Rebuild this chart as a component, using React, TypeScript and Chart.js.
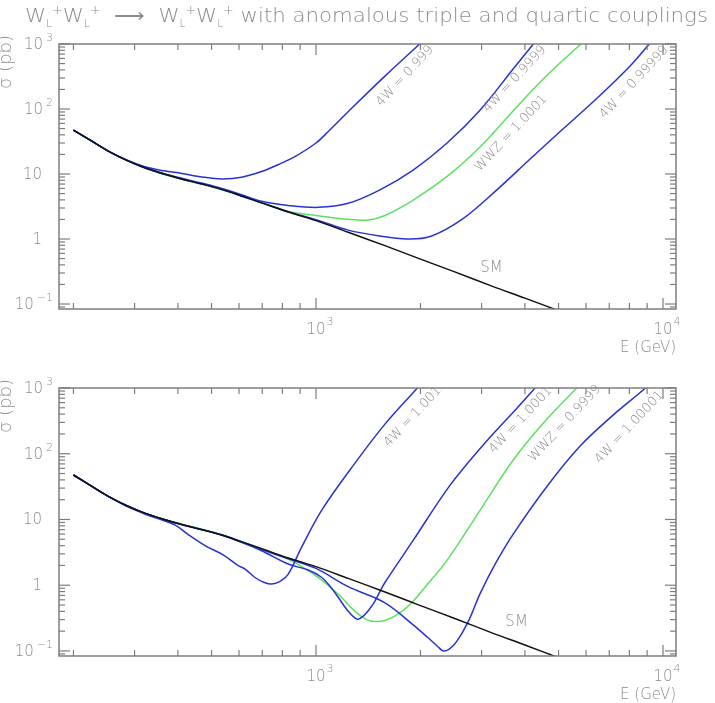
import React, { useEffect, useRef } from "react";
import { Chart, registerables } from "chart.js";

Chart.register(...registerables);

// ---------------- data ----------------
// Standard Model curve (shared by both panels)
const smE = [200, 226, 252, 285, 321, 365, 410, 470, 535, 610, 697, 832, 1000, 1238, 1580, 2000, 2500, 3200, 4000, 5000, 5500];
const smS = [47.5, 32, 22.5, 16.2, 12.5, 10.0, 8.4, 7.0, 5.8, 4.6, 3.6, 2.6, 1.92, 1.27, 0.79, 0.49, 0.315, 0.19, 0.123, 0.079, 0.065];

// Top panel
const t4w999E = [200, 226, 252, 285, 321, 365, 410, 470, 535, 610, 697, 780, 869, 1000, 1085, 1295, 1580, 1990, 2150];
const t4w999S = [47.5, 32, 22.5, 16.4, 12.9, 11.2, 10.2, 9.0, 8.4, 8.9, 10.9, 14, 18.5, 30, 45, 115, 320, 1000, 1450];

const t4w9999E = [200, 226, 252, 285, 321, 365, 410, 470, 535, 610, 697, 832, 1015, 1238, 1528, 1905, 2382, 2973, 3709, 4230, 4500];
const t4w9999S = [47.5, 32, 22.5, 16.2, 12.6, 10.1, 8.6, 7.2, 6.0, 4.8, 3.8, 3.28, 3.07, 3.54, 5.7, 11.5, 29.7, 96.6, 420, 1000, 1500];

const t4w99999E = [200, 226, 252, 285, 321, 365, 410, 470, 535, 610, 697, 832, 1000, 1238, 1528, 1824, 2133, 2660, 3320, 4140, 5165, 6440, 8040, 9130, 9600];
const t4w99999S = [47.5, 32, 22.5, 16.2, 12.5, 10.0, 8.4, 7.0, 5.8, 4.6, 3.6, 2.63, 1.98, 1.37, 1.11, 1.0, 1.09, 2.08, 5.7, 17, 50, 145, 460, 1000, 1350];

const tWwzE = [200, 226, 252, 285, 321, 365, 410, 470, 535, 610, 697, 832, 1000, 1238, 1414, 1580, 1905, 2382, 2973, 3709, 4628, 5800, 6100];
const tWwzS = [47.5, 32, 22.5, 16.1, 12.3, 9.8, 8.3, 6.9, 5.7, 4.55, 3.6, 2.65, 2.3, 2.01, 1.96, 2.3, 3.98, 9.1, 26.3, 95, 330, 1000, 1300];

// Bottom panel
const b4w1001E = [200, 226, 252, 285, 321, 350, 393, 428, 479, 540, 597, 625, 667, 710, 745, 790, 832, 909, 1039, 1295, 1580, 1960, 2100];
const b4w1001S = [47.5, 32, 22.5, 15.8, 12.1, 10.3, 8.2, 5.9, 4.0, 2.9, 1.98, 1.76, 1.31, 1.1, 1.04, 1.15, 1.48, 3.8, 13.9, 72, 282, 1000, 1500];

const b4w10001E = [200, 226, 252, 285, 321, 365, 410, 470, 535, 610, 697, 832, 950, 1039, 1100, 1160, 1230, 1310, 1360, 1420, 1479, 1528, 1580, 1905, 2432, 3033, 3787, 4276, 4500];
const b4w10001S = [47.5, 32, 22.5, 16.2, 12.5, 10.0, 8.4, 7.0, 5.8, 4.5, 3.35, 2.1, 1.7, 1.31, 0.95, 0.65, 0.42, 0.305, 0.33, 0.42, 0.574, 0.8, 1.1, 4.8, 33, 136, 489, 1000, 1400];

const b4w100001E = [200, 226, 252, 285, 321, 365, 410, 470, 535, 610, 697, 832, 1000, 1238, 1580, 1905, 2100, 2250, 2328, 2420, 2542, 2746, 2973, 3300, 3709, 4628, 5770, 7195, 8900, 9500];
const b4w100001S = [47.5, 32, 22.5, 16.2, 12.5, 10.0, 8.4, 7.0, 5.8, 4.55, 3.5, 2.52, 1.8, 0.95, 0.54, 0.25, 0.16, 0.115, 0.1, 0.107, 0.139, 0.28, 0.75, 2.2, 6.1, 31.8, 131, 390, 1000, 1450];

const bWwzE = [200, 226, 252, 285, 321, 365, 410, 470, 535, 610, 697, 832, 1000, 1160, 1295, 1400, 1479, 1580, 1745, 1905, 2100, 2382, 2973, 3709, 4628, 5640, 5900];
const bWwzS = [47.5, 32, 22.5, 16.2, 12.5, 10.0, 8.5, 7.1, 5.9, 4.6, 3.6, 2.5, 1.39, 0.73, 0.4, 0.3, 0.28, 0.29, 0.38, 0.57, 1.05, 2.37, 13.9, 81.7, 337, 1000, 1300];

// curve labels: text and anchor in data coordinates (E, sigma)
const topLabels = [
  { text: "4W = 0.999", e: 1805, s: 322 },
  { text: "4W = 0.9999", e: 3740, s: 289 },
  { text: "WWZ = 1.0001", e: 3650, s: 42.3 },
  { text: "4W = 0.99999", e: 8260, s: 257 },
];
const topSM = { text: "SM", e: 3206, s: 0.363 };
const bottomLabels = [
  { text: "4W = 1.001", e: 1900, s: 366 },
  { text: "4W = 1.0001", e: 3890, s: 326 },
  { text: "WWZ = 0.9999", e: 5210, s: 290 },
  { text: "4W = 1.00001", e: 8000, s: 252 },
];
const bottomSM = { text: "SM", e: 3785, s: 0.272 };

// axes
const X_MIN = 181.7;
const X_MAX = 10900;
const Y_MIN = 0.0838;
const Y_MAX = 1000;
const xMajorTicks = [1000, 10000];
const xMinorTicks = [200, 300, 400, 500, 600, 700, 800, 900, 2000, 3000, 4000, 5000, 6000, 7000, 8000, 9000];
const yMajorTicks = [0.1, 1, 10, 100, 1000];
const yMinorTicks = [0.09, 0.2, 0.3, 0.4, 0.5, 0.6, 0.7, 0.8, 0.9, 2, 3, 4, 5, 6, 7, 8, 9, 20, 30, 40, 50, 60, 70, 80, 90, 200, 300, 400, 500, 600, 700, 800, 900];
const yTickLabels = [
  { v: 1000, base: "10", exp: "3" },
  { v: 100, base: "10", exp: "2" },
  { v: 10, base: "10", exp: "" },
  { v: 1, base: "1", exp: "" },
  { v: 0.1, base: "10", exp: "\u22121" },
];
const xTickLabels = [
  { v: 1000, base: "10", exp: "3" },
  { v: 10000, base: "10", exp: "4" },
];

// ---------------- styles ----------------
const FONT = "'DejaVu Sans', 'Liberation Sans', sans-serif";
const TXT = "#8c8c8c";
const AXIS = "#7d7d7d";
const BLUE = "#2832d2";
const GREEN = "#5ee05e";
const BLACK = "#111111";

function ds(E: number[], S: number[], color: string) {
  return {
    data: E.map((e, i) => ({ x: e, y: S[i] })),
    borderColor: color,
    borderWidth: 1.5,
    pointRadius: 0,
    fill: false,
    tension: 0.35,
  };
}

function drawTitle(ctx: CanvasRenderingContext2D) {
  const pieces: [string, "n" | "sub" | "sup"][] = [
    ["W", "n"], ["L", "sub"], ["+", "sup"], ["W", "n"], ["L", "sub"], ["+", "sup"],
    ["  \u27F6  ", "n"],
    ["W", "n"], ["L", "sub"], ["+", "sup"], ["W", "n"], ["L", "sub"], ["+", "sup"],
    [" with anomalous triple and quartic couplings", "n"],
  ];
  const fonts = { n: `200 20px ${FONT}`, sub: `200 10px ${FONT}`, sup: `200 12px ${FONT}` };
  const dy = { n: 0, sub: 5, sup: -8 };
  const widths: number[] = [];
  let total = 0;
  for (const [t, k] of pieces) {
    ctx.font = fonts[k];
    const w = ctx.measureText(t).width;
    widths.push(w);
    total += w;
  }
  const left = 25;
  const right = 708;
  const sx = (right - left) / total;
  ctx.save();
  ctx.fillStyle = TXT;
  ctx.textAlign = "left";
  ctx.textBaseline = "alphabetic";
  ctx.translate(left, 22);
  ctx.scale(sx, 1);
  let cx = 0;
  pieces.forEach(([t, k], i) => {
    ctx.font = fonts[k];
    ctx.fillText(t, cx, dy[k]);
    cx += widths[i];
  });
  ctx.restore();
}

function makeDecor(labels: { text: string; e: number; s: number }[], sm: { text: string; e: number; s: number }, withTitle: boolean, yTitleY: number) {
  return {
    id: "decor",
    afterDatasetsDraw(chart: any) {
      const ctx: CanvasRenderingContext2D = chart.ctx;
      const a = chart.chartArea;
      const x = chart.scales.x;
      const y = chart.scales.y;
      ctx.save();
      // frame
      ctx.strokeStyle = AXIS;
      ctx.lineWidth = 1.5;
      ctx.strokeRect(a.left, a.top, a.right - a.left, a.bottom - a.top);
      const seg = (x1: number, y1: number, x2: number, y2: number) => {
        ctx.beginPath();
        ctx.moveTo(x1, y1);
        ctx.lineTo(x2, y2);
        ctx.stroke();
      };
      ctx.lineWidth = 1.2;
      const xt = (v: number, len: number) => {
        const px = x.getPixelForValue(v);
        if (px <= a.left || px >= a.right) return;
        seg(px, a.bottom, px, a.bottom - len);
        seg(px, a.top, px, a.top + len);
      };
      const yt = (v: number, len: number) => {
        const py = y.getPixelForValue(v);
        if (py < a.top - 0.5 || py > a.bottom + 0.5) return;
        seg(a.left, py, a.left + len, py);
        seg(a.right, py, a.right - len, py);
      };
      xMajorTicks.forEach((v) => xt(v, 11));
      xMinorTicks.forEach((v) => xt(v, 6));
      yMajorTicks.forEach((v) => yt(v, 11));
      yMinorTicks.forEach((v) => yt(v, 6));

      // tick labels
      ctx.fillStyle = TXT;
      const baseFont = `200 15px ${FONT}`;
      const supFont = `200 11px ${FONT}`;
      ctx.textBaseline = "middle";
      for (const t of yTickLabels) {
        const py = y.getPixelForValue(t.v);
        if (t.exp) {
          ctx.font = supFont;
          const ew = ctx.measureText(t.exp).width;
          const supRight = a.left - 6;
          ctx.textAlign = "right";
          ctx.fillText(t.exp, supRight, py - 6);
          ctx.font = baseFont;
          ctx.fillText(t.base, supRight - ew - 3, py + 1);
        } else {
          ctx.font = baseFont;
          ctx.textAlign = "right";
          ctx.fillText(t.base, a.left - 17, py + 1);
        }
      }
      for (const t of xTickLabels) {
        const px = x.getPixelForValue(t.v);
        ctx.font = baseFont;
        const bw = ctx.measureText(t.base).width;
        ctx.textAlign = "center";
        ctx.fillText(t.base, px, a.bottom + 21);
        ctx.font = supFont;
        ctx.textAlign = "left";
        ctx.fillText(t.exp, px + bw / 2 + 1, a.bottom + 13);
      }
      // x-axis title
      ctx.font = baseFont;
      ctx.textAlign = "right";
      ctx.fillText("E (GeV)", a.right, a.bottom + 39);

      // y-axis title (partly cut by the left edge, as in the original)
      ctx.save();
      ctx.translate(11, yTitleY);
      ctx.rotate(-Math.PI / 2);
      ctx.textAlign = "center";
      ctx.textBaseline = "alphabetic";
      ctx.font = `200 18px ${FONT}`;
      ctx.fillText("\u03C3 (pb)", 0, 0);
      ctx.restore();

      // curve labels
      ctx.font = `200 13px ${FONT}`;
      ctx.textAlign = "center";
      ctx.textBaseline = "middle";
      for (const l of labels) {
        const px = x.getPixelForValue(l.e);
        const py = y.getPixelForValue(l.s);
        ctx.save();
        ctx.translate(px, py);
        ctx.rotate((-47 * Math.PI) / 180);
        ctx.fillText(l.text, 0, 0);
        ctx.restore();
      }
      ctx.font = `200 15px ${FONT}`;
      ctx.fillText(sm.text, x.getPixelForValue(sm.e), y.getPixelForValue(sm.s));

      if (withTitle) drawTitle(ctx);
      ctx.restore();
    },
  };
}

function config(datasets: any[], padTop: number, padBottom: number, decor: any) {
  return {
    type: "line" as const,
    data: { datasets },
    options: {
      animation: false as const,
      responsive: false,
      events: [],
      layout: { padding: { left: 59, right: 39, top: padTop, bottom: padBottom } },
      plugins: { legend: { display: false }, title: { display: false }, tooltip: { enabled: false } },
      scales: {
        x: { type: "logarithmic" as const, min: X_MIN, max: X_MAX, display: false },
        y: { type: "logarithmic" as const, min: Y_MIN, max: Y_MAX, display: false },
      },
    },
    plugins: [decor],
  };
}

export default function App() {
  const topRef = useRef<HTMLCanvasElement>(null);
  const botRef = useRef<HTMLCanvasElement>(null);

  useEffect(() => {
    const top = new Chart(
      topRef.current!,
      config(
        [
          ds(smE, smS, BLACK),
          ds(t4w999E, t4w999S, BLUE),
          ds(t4w9999E, t4w9999S, BLUE),
          ds(t4w99999E, t4w99999S, BLUE),
          ds(tWwzE, tWwzS, GREEN),
        ],
        44,
        51,
        makeDecor(topLabels, topSM, true, 62)
      ) as any
    );
    const bot = new Chart(
      botRef.current!,
      config(
        [
          ds(smE, smS, BLACK),
          ds(b4w1001E, b4w1001S, BLUE),
          ds(b4w10001E, b4w10001S, BLUE),
          ds(b4w100001E, b4w100001S, BLUE),
          ds(bWwzE, bWwzS, GREEN),
        ],
        33,
        47,
        makeDecor(bottomLabels, bottomSM, false, 51)
      ) as any
    );
    return () => {
      top.destroy();
      bot.destroy();
    };
  }, []);

  return (
    <div style={{ position: "fixed", left: 0, top: 0, width: 715, height: 703, background: "#fff", overflow: "hidden" }}>
      <canvas ref={topRef} width={715} height={360} style={{ position: "absolute", left: 0, top: 0, width: 715, height: 360 }} />
      <canvas ref={botRef} width={715} height={348} style={{ position: "absolute", left: 0, top: 355, width: 715, height: 348 }} />
    </div>
  );
}
